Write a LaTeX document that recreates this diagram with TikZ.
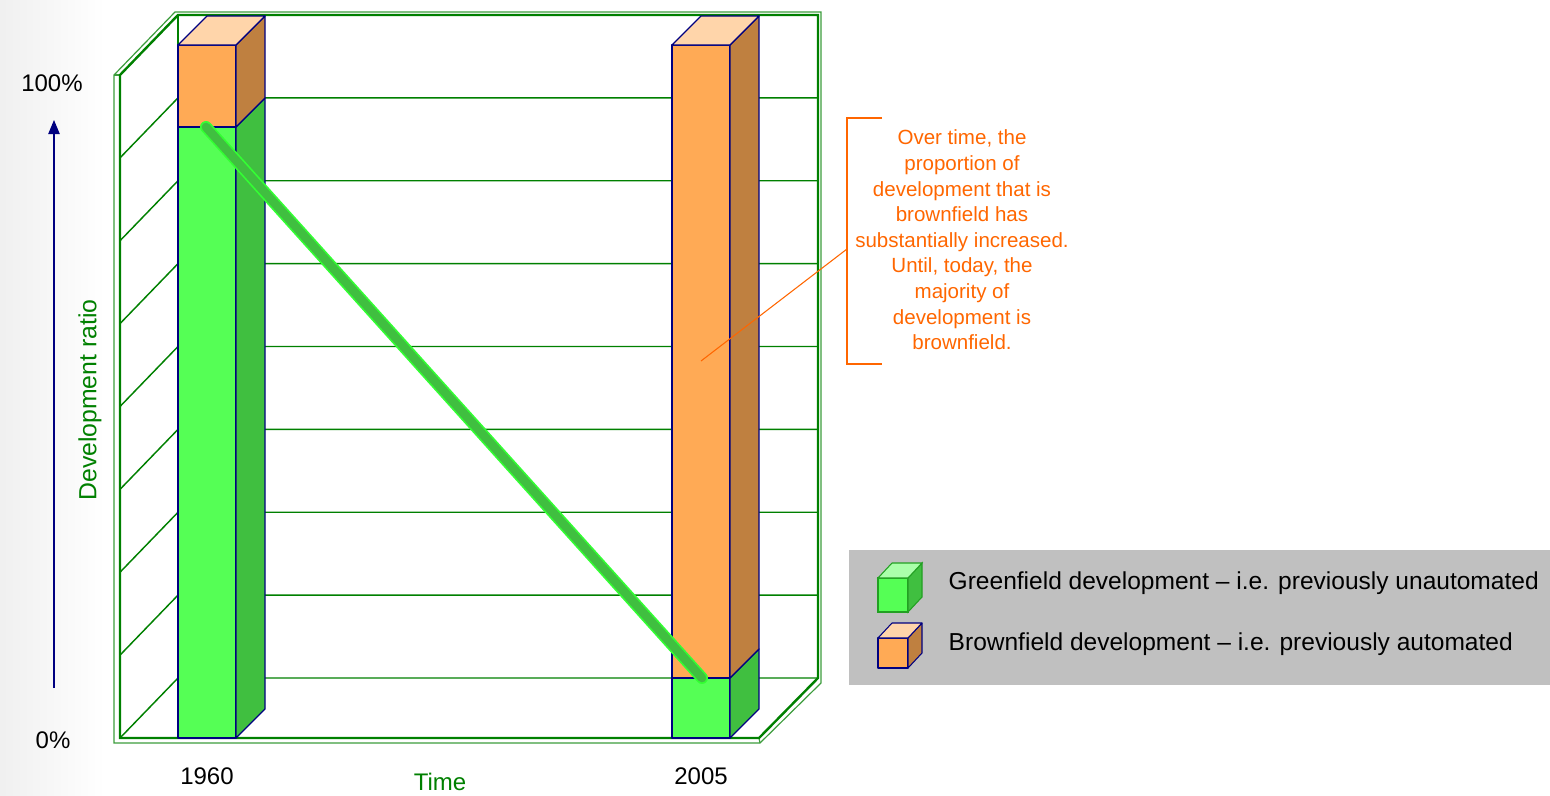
\documentclass[tikz,border=0pt]{standalone}
\usepackage{fontspec}
\setmainfont{Liberation Sans}
\usepackage{xcolor}
\usepackage{tikz}
\usetikzlibrary{arrows.meta}

\definecolor{wallgreen}{HTML}{008000}
\definecolor{walllight}{HTML}{3C9C3C}
\definecolor{barline}{HTML}{000080}
\definecolor{greenfront}{HTML}{55FF55}
\definecolor{greenside}{HTML}{40BF40}
\definecolor{greentop}{HTML}{AAFFAA}
\definecolor{greenedge}{HTML}{22A022}
\definecolor{glowgreen}{HTML}{33FF33}
\definecolor{orangefront}{HTML}{FFAA55}
\definecolor{orangeside}{HTML}{BF8040}
\definecolor{orangetop}{HTML}{FFD5AA}
\definecolor{noteorange}{HTML}{FF6600}
\definecolor{legendgray}{HTML}{C0C0C0}

\begin{document}
\begin{tikzpicture}[x=0.75pt,y=-0.75pt,
	wall/.style={draw=wallgreen,line width=1.8pt},
	wallouter/.style={draw=walllight,line width=0.9pt},
	gridline/.style={draw=wallgreen,line width=1.1pt},
	face/.style={draw=barline,line width=1pt,line join=round},
	trendglow/.style={draw=glowgreen,line width=9pt,line cap=round},
	trendline/.style={draw=greenside,line width=6.5pt,line cap=round},
	note/.style={draw=noteorange,line width=0.8pt},
	axislabel/.style={font=\fontsize{18}{21}\selectfont},
	legendtext/.style={font=\fontsize{18.4}{22}\selectfont,anchor=west}
	]
	\useasboundingbox (0,0) rectangle (1550,796);
	\shade[left color=black!6,right color=white] (0,0) rectangle (105,796);

	\coordinate (F0) at (120,738);
	\coordinate (F1) at (120,75);
	\coordinate (B0) at (178,678);
	\coordinate (B1) at (178,15);
	\coordinate (B2) at (818,15);
	\coordinate (B3) at (818,678);
	\coordinate (F3) at (759,738);

	\foreach \k in {1,...,7}{
		\draw[gridline] ({120},{738-\k*82.875}) -- ({178},{678-\k*82.875}) -- ({818},{678-\k*82.875});
	}
	\draw[gridline] (F0) -- (B0) -- (B3);
	\draw[wall] (B0) -- (B1);

	\draw[wallouter] (114,743) -- (114,75) -- (175,12) -- (821,12) -- (821,683) -- (760,743) -- cycle;
	\draw[wallouter] (114,75) -- (F1);
	\draw[wallouter] (F3) -- (760,743);
	\draw[wall] (F0) -- (F1) -- (B1) -- (B2) -- (B3) -- (F3) -- cycle;

	\foreach \bx/\ysplit/\year in {178/127/1960, 672/678/2005}{
		\draw[face,fill=greenfront] (\bx,738) rectangle (\bx+58,\ysplit);
		\draw[face,fill=orangefront] (\bx,45) rectangle (\bx+58,\ysplit);
		\draw[face,fill=greenside] (\bx+58,738) -- (\bx+87,709) -- (\bx+87,\ysplit-29) -- (\bx+58,\ysplit) -- cycle;
		\draw[face,fill=orangeside] (\bx+58,\ysplit) -- (\bx+87,\ysplit-29) -- (\bx+87,16) -- (\bx+58,45) -- cycle;
		\draw[face,fill=orangetop] (\bx,45) -- (\bx+29,16) -- (\bx+87,16) -- (\bx+58,45) -- cycle;
		\node[axislabel] (year\year) at (\bx+29,776) {\year};
	}

	\coordinate (trendstart) at (206,127);
	\coordinate (trendend) at (702,678);
	\draw[trendglow] (trendstart) -- (trendend);
	\draw[trendline] (trendstart) -- (trendend);

	\coordinate (axisfoot) at (54,688);
	\coordinate (axistip) at (54,120);
	\draw[barline,line width=1pt,-{Triangle[length=10.5pt,width=8.5pt]}] (axisfoot) -- (axistip);
	\node[axislabel] (top) at (52,83) {100\%};
	\node[axislabel] (bottom) at (53,740) {0\%};
	\node[text=wallgreen,rotate=90,font=\fontsize{18.6}{21}\selectfont] (ratio) at (90,400) {Development ratio};
	\node[axislabel,text=wallgreen] (time) at (440,782) {Time};

	\coordinate (brackettop) at (882,118);
	\coordinate (bracketbottom) at (882,364);
	\coordinate (bracketmid) at (847,249);
	\coordinate (notetarget) at (701,361);
	\draw[note] (brackettop) -- (847,118) -- (847,364) -- (bracketbottom);
	\draw[note] (bracketmid) -- (notetarget);
	\node[text=noteorange,align=center,font=\fontsize{15.4}{19.2}\selectfont] (notetext) at (962,240)
		{Over time, the\\proportion of\\development that is\\brownfield has\\substantially increased.\\Until, today, the\\majority of\\development is\\brownfield.};

	\fill[legendgray] (849,550) rectangle (1550,685);
	\draw[draw=greenedge,line width=0.8pt,fill=greenfront] (878,578) rectangle (908,612);
	\draw[draw=greenedge,line width=0.8pt,fill=greenside] (908,612) -- (922,597) -- (922,563) -- (908,578) -- cycle;
	\draw[draw=greenedge,line width=0.8pt,fill=greentop] (878,578) -- (892,563) -- (922,563) -- (908,578) -- cycle;
	\draw[face,line width=0.8pt,fill=orangefront] (878,638) rectangle (908,668);
	\draw[face,line width=0.8pt,fill=orangeside] (908,668) -- (922,653) -- (922,623) -- (908,638) -- cycle;
	\draw[face,line width=0.8pt,fill=orangetop] (878,638) -- (892,623) -- (922,623) -- (908,638) -- cycle;
	\node[legendtext] (greenkey) at (944,583) {Greenfield development -- i.e. previously unautomated};
	\node[legendtext] (brownkey) at (944,644) {Brownfield development -- i.e. previously automated};
\end{tikzpicture}
\end{document}
